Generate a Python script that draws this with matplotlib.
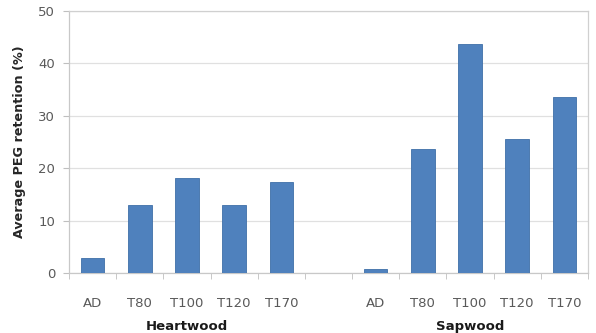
import matplotlib.pyplot as plt
import numpy as np

categories = ["AD", "T80", "T100", "T120", "T170", "", "AD", "T80", "T100", "T120", "T170"]
retention = [2.8, 13.0, 18.1, 12.9, 17.4, 0, 0.8, 23.6, 43.7, 25.5, 33.6]
groups = ["Heartwood", "Sapwood"]
group_centers = [2, 8]

grey = "#595959"
fig = plt.figure(figsize=(5.96, 3.33), dpi=100)
ax = fig.add_axes([0.1158, 0.1802, 0.8708, 0.7868])

x = np.arange(len(categories))
ax.bar(x, retention, width=0.5, color="#4F81BD", edgecolor="#3F6FA8", linewidth=0.6, zorder=3)

ax.set_xlim(-0.5, len(categories) - 0.5)
ax.set_ylim(0, 50)
ax.set_yticks(np.arange(0, 51, 10))
ax.yaxis.grid(True, color="#E0E0E0", linewidth=0.9, zorder=0)

ax.set_xticks(x)
ax.set_xticklabels(categories, fontsize=9.5, color=grey)
ax.set_xticks(np.arange(-0.5, len(categories), 1), minor=True)
ax.tick_params(axis="x", which="major", length=0, pad=17)
ax.tick_params(axis="x", which="minor", length=4, color="#BFBFBF", direction="out")
ax.tick_params(axis="y", labelsize=9.5, labelcolor=grey, length=4, color="#BFBFBF", pad=6)

for s in ax.spines.values():
    s.set_color("#C8C8C8")
    s.set_linewidth(0.9)
ax.spines["top"].set_color("#D0D0D0")
ax.spines["right"].set_color("#D0D0D0")

ax.set_ylabel("Average PEG retention (%)", fontsize=9.2, fontweight="bold", color="#262626", labelpad=9)

for g, c in zip(groups, group_centers):
    ax.text(c, -0.205, g, transform=ax.get_xaxis_transform(), ha="center", va="center",
            fontsize=9.5, fontweight="bold", color="#1a1a1a")

fig.savefig("out.png", dpi=100)
